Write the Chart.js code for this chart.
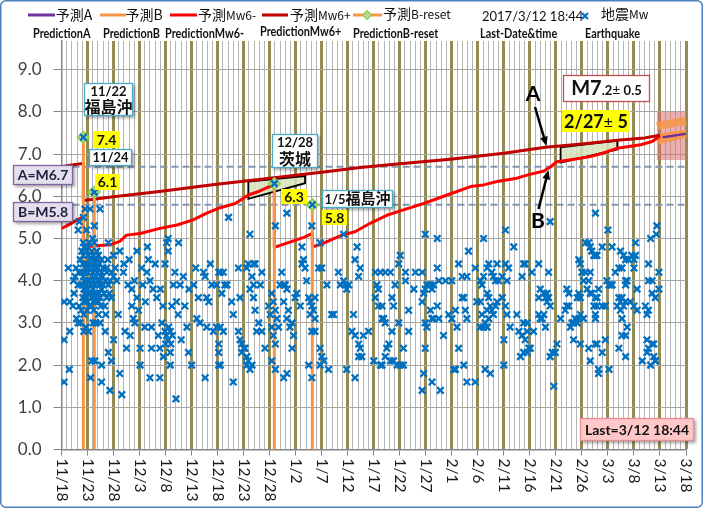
<!DOCTYPE html>
<html>
<head>
<meta charset="utf-8">
<script src="https://cdn.jsdelivr.net/npm/chart.js@4.4.1/dist/chart.umd.min.js"></script>
<style>
  html, body { margin: 0; padding: 0; background: #fff; }
  canvas { display: block; }
</style>
</head>
<body>
<canvas id="chart" width="703" height="508"></canvas>
<script>
// x axis = days since 2016/11/18
const tickLabels = ['11/18','11/23','11/28','12/3','12/8','12/13','12/18','12/23','12/28','1/2','1/7','1/12',
  '1/17','1/22','1/27','2/1','2/6','2/11','2/16','2/21','2/26','3/3','3/8','3/13','3/18'];

// earthquakes (day, Mw)
const quakeDay = [
  0.5,0.5,0.5,1.3,1.5,1.6,2.2,2.4,2.6,2.9, 3.2,3.2,3.6,3.4,4.2,4.2,4.5,5.5,7.4,6.3,
  6.3,9.0,3.9,4.8,5.8,6.8,4.2,5.2,6.1,7.1, 7.7,4.1,4.7,5.5,6.4,7.3,8.0,3.9,4.5,5.4,
  6.0,6.9,7.7,8.7,4.2,5.0,5.8,6.6,7.4,8.4, 3.9,4.7,5.6,6.4,7.3,8.0,4.3,5.2,6.0,6.8,
  7.7,4.1,4.8,5.8,6.6,7.4,8.7,4.5,5.4,6.1, 7.1,9.3,9.6,10.0,9.0,8.7,2.3,2.8,3.2,1.6,
  3.4,4.3,4.7,4.3,5.8,6.4,5.6,6.1,6.6,7.4, 8.4,7.7,7.7,9.3,9.6,9.0,10.0,10.9,11.2,11.6,
  11.2,10.0,10.3,9.6,10.6,11.9,12.2,12.5,13.2,13.5, 13.5,13.8,14.1,14.5,14.5,15.1,15.1,15.4,16.1,16.5,
  16.7,17.0,17.3,17.3,17.0,18.3,18.6,18.9,18.9,19.3, 19.9,20.2,20.5,20.5,19.9,20.2,20.9,20.5,20.9,20.9,
  21.5,21.8,22.1,22.5,22.8,23.4,23.7,24.1,24.4,25.0, 25.4,26.0,26.6,27.3,27.6,27.9,27.6,27.9,28.9,29.2,
  29.8,30.2,22.0,4.2,6.3,40.9,48.2,
  4.4,5.0,5.6,6.3,6.9,4.6,5.1,6.2,7.0,7.5, 4.4,5.3,6.1,6.9,7.9,4.5,5.0,5.7,6.4,7.2,
  8.2,4.3,5.0,5.8,6.6,7.6,8.3,4.9,6.2,7.1, 5.4,6.0,4.8,3.6,3.3,8.9,9.2,8.5,3.8,5.2,
  12.0,12.8,13.0,14.0,14.8,15.6,16.0,16.4,17.6,18.0, 19.0,19.5,20.0,21.0,21.2,22.4,23.0,24.5,25.8,26.3,
  28.3,28.6,19.6,21.3,20.6,
  32.1,36.2,41.1,43.3,48.1,46.2,49.7,54.2,56.8,56.4, 57.4,57.1,30.2,30.5,31.1,31.4,31.8,30.8,29.8,30.5,
  31.1,30.2,30.2,30.5,33.0,32.7,33.0,34.0,34.3,34.0, 34.3,34.6,35.0,35.3,34.6,35.6,35.9,36.2,36.6,35.6,
  35.9,36.9,37.2,35.6,36.6,36.9,36.2,36.9,37.2,37.9, 37.5,38.5,38.5,38.2,39.1,39.8,40.1,40.4,40.4,40.7,
  41.1,41.4,40.7,41.1,41.7,41.1,40.4,42.0,42.3,42.7, 43.0,43.3,42.7,43.3,43.6,43.9,44.3,44.6,44.3,42.7,
  43.3,44.9,45.2,45.9,46.2,46.5,46.8,47.1,47.5,47.8, 48.1,48.4,48.7,47.8,48.7,48.1,48.7,48.1,47.5,49.4,
  50.0,49.7,50.0,50.4,49.7,51.0,51.9,52.3,51.3,53.2, 53.6,54.2,54.5,54.8,55.2,54.8,56.4,55.8,56.4,57.1,
  57.4,57.7,57.1,58.0,59.0,56.1,
  69.9,72.2,85.3,81.1,86.9,78.2,65.1,64.8,60.3,61.3, 62.2,63.2,66.1,68.0,69.3,60.6,60.9,64.1,66.1,67.7,
  72.2,72.5,73.8,75.0,76.3,77.0,77.9,79.5,80.5,80.8, 81.1,81.8,82.1,82.7,83.0,83.7,83.4,84.0,84.7,85.3,
  85.6,85.9,88.5,88.8,60.3,60.9,61.6,61.9,62.2,61.6, 63.5,63.8,64.8,63.5,62.9,62.5,62.2,63.2,63.8,64.5,
  65.1,65.7,60.0,61.3,61.6,65.7,66.7,66.7,69.3,69.6, 69.9,70.2,70.9,71.2,71.5,69.9,70.2,70.9,71.2,71.5,
  72.2,72.5,69.9,69.6,69.3,71.2,72.8,73.4,74.4,75.0, 75.7,76.0,75.4,75.7,76.3,77.3,77.0,77.6,77.9,77.3,
  77.9,79.5,79.8,80.5,80.8,80.5,81.1,81.8,81.4,82.1, 81.8,82.4,82.7,83.0,83.4,83.7,82.1,81.8,81.4,82.4,
  84.7,85.3,85.6,85.0,85.0,86.2,87.5,87.9,88.5,88.8, 88.8,88.2,89.1,
  93.9,102.6,105.0,114.4,114.3,113.2,89.1,91.7,90.4,93.6, 92.0,91.7,92.7,93.0,93.3,93.6,93.9,93.3,91.7,92.3,
  92.7,92.0,93.0,90.7,89.5,89.5,89.8,89.5,90.1,93.9, 94.3,94.9,95.2,94.6,95.9,96.8,97.1,97.5,97.8,98.1,
  97.1,97.5,98.4,98.7,99.1,99.4,100.3,99.7,98.4,99.7, 99.4,99.1,99.7,99.4,99.7,100.0,100.7,101.6,101.3,100.3,
  101.0,101.6,101.9,102.6,103.2,102.9,100.7,101.3,101.6,101.9, 102.3,102.6,102.9,103.9,105.8,102.3,102.9,103.9,104.5,102.6,
  102.6,102.6,102.9,104.5,101.3,101.6,103.2,103.2,105.2,103.9, 104.8,105.2,105.5,105.8,106.4,107.1,107.7,107.4,108.0,108.4,
  107.1,107.4,107.7,108.0,108.4,106.8,107.4,107.7,108.4,108.4, 108.7,109.0,109.6,110.0,110.3,110.0,110.6,110.3,108.7,108.4,
  107.7,107.1,108.4,109.3,110.0,110.6,111.6,112.2,112.5,112.8, 112.5,112.8,112.5,113.5,113.8,112.8,112.8,113.5,113.5,114.1,
  114.8,114.8,113.2,113.8,114.1,114.1
];
const quakeMw = [
  3.5,2.6,1.6,4.3,1.9,2.8,3.4,3.7,4.1,3.1, 5.2,3.0,3.0,5.4,5.5,4.9,5.7,5.7,5.7,5.3,
  4.9,4.9,4.7,4.7,4.7,4.7,4.6,4.6,4.6,4.6, 4.5,4.4,4.4,4.4,4.4,4.4,4.3,4.2,4.2,4.3,
  4.2,4.2,4.2,4.2,4.1,4.0,4.1,4.1,4.0,4.0, 3.9,3.9,3.9,3.9,3.9,3.9,3.8,3.7,3.8,3.7,
  3.8,3.6,3.6,3.6,3.6,3.6,3.6,3.5,3.4,3.5, 3.5,4.0,4.2,4.1,3.9,4.3,4.0,4.3,3.9,3.5,
  3.4,3.2,2.9,2.8,2.1,2.1,1.7,3.0,3.0,3.0, 2.8,2.0,1.6,1.4,2.1,2.3,2.6,3.2,1.8,1.3,
  4.7,4.6,4.3,3.6,4.0,4.2,2.8,2.4,2.7,3.8, 3.4,3.1,3.0,4.7,3.6,2.0,2.4,4.3,3.5,4.8,
  4.5,4.0,2.9,2.4,1.7,3.6,2.7,2.4,1.7,3.0, 4.4,4.9,5.0,4.7,2.8,2.7,2.8,2.6,2.3,2.0,
  3.9,4.2,3.5,4.9,3.9,4.1,3.4,2.9,2.3,2.0, 3.9,3.1,3.0,4.2,4.1,3.6,1.7,2.9,3.9,2.8,
  3.9,2.0,1.2,7.4,6.1,6.3,5.8,
  4.8,4.8,4.5,4.5,4.5,4.3,4.2,4.3,4.3,4.1, 4.0,4.0,4.0,4.0,4.1,3.7,3.8,3.7,3.7,3.7,
  3.7,3.5,3.5,3.4,3.5,3.4,3.4,3.3,3.3,3.2, 4.9,5.0,5.2,4.5,4.2,4.5,3.7,3.2,3.3,2.8,
  4.4,3.9,4.5,4.0,3.3,3.9,2.9,4.2,3.8,4.4, 3.8,3.4,2.5,2.5,3.4,3.2,2.6,3.8,4.3,3.6,
  3.5,4.4,2.2,2.7,2.9,
  5.5,5.1,5.3,5.6,5.3,4.8,4.9,5.1,4.8,4.5, 4.3,4.1,4.2,4.2,4.2,3.9,3.9,3.7,2.9,2.9,
  2.8,2.5,2.3,2.0,1.6,3.5,3.2,4.3,3.6,2.8, 2.6,2.5,2.4,2.4,2.3,2.2,2.1,1.9,2.0,2.0,
  4.4,4.4,4.4,4.3,4.1,3.9,3.8,3.6,3.3,3.0, 2.8,2.8,4.2,3.9,2.4,3.4,3.2,3.7,2.9,3.5,
  3.3,3.1,2.7,2.5,2.9,1.9,2.1,3.9,4.2,3.9, 3.9,3.8,3.5,3.1,3.3,2.9,3.0,2.7,2.4,1.7,
  1.8,3.6,3.7,3.4,4.4,4.5,4.3,4.0,3.6,3.5, 3.4,3.3,3.1,3.2,3.6,2.8,2.8,1.7,2.0,4.3,
  4.3,2.4,2.2,2.1,2.0,3.9,3.2,3.2,1.9,4.2, 3.9,4.0,3.9,3.8,3.9,1.9,1.7,2.8,2.7,2.5,
  2.4,2.2,2.2,2.7,2.8,3.2,
  5.1,5.0,5.2,5.0,4.8,4.7,4.6,4.4,4.2,4.2, 4.2,4.2,4.2,4.2,4.2,3.9,3.8,3.9,4.0,3.8,
  4.3,4.0,4.0,4.0,4.4,4.1,4.1,4.3,4.0,3.9, 4.1,4.3,4.4,4.2,4.1,4.4,4.0,4.0,4.1,4.4,
  4.0,4.3,4.1,4.4,3.6,3.4,3.4,3.1,3.0,3.1, 3.6,3.4,3.0,2.8,2.5,2.4,2.2,2.1,2.1,2.0,
  2.0,2.0,2.1,2.0,2.0,2.4,2.8,3.3,3.5,3.7, 3.8,3.9,3.9,3.8,3.9,3.0,2.9,3.3,3.1,3.1,
  3.4,3.1,2.4,1.8,1.4,1.6,1.4,2.7,3.2,3.1, 3.3,2.9,1.9,1.9,2.4,3.6,3.6,3.3,3.1,2.0,
  1.6,1.6,3.5,3.5,3.2,2.9,2.9,2.9,3.0,3.1, 3.3,3.4,3.3,3.2,3.4,3.5,3.6,3.7,1.9,1.8,
  3.6,3.4,3.2,2.6,2.0,2.9,3.2,2.8,2.7,3.0, 2.3,2.2,2.6,
  5.4,5.6,5.2,5.3,5.1,5.0,4.4,4.4,4.2,4.2, 3.8,3.6,3.7,3.6,3.7,3.6,3.4,3.5,3.2,3.1,
  3.2,3.1,2.9,2.8,3.0,2.8,2.4,2.3,2.4,2.2, 2.3,2.3,2.5,1.5,3.1,3.3,3.4,3.4,2.9,3.0,
  3.8,3.7,3.0,3.1,3.0,3.1,3.1,3.2,2.6,2.5, 3.7,3.6,3.6,4.5,4.4,4.2,4.2,4.2,4.0,4.0,
  3.8,3.7,3.7,3.6,3.8,3.6,4.9,4.9,4.8,4.7, 4.6,4.6,4.6,4.8,4.8,3.4,3.4,3.4,3.4,3.2,
  3.1,2.5,2.5,2.6,2.4,2.1,1.9,1.8,1.9,2.3, 4.0,3.9,3.9,3.9,4.2,4.3,4.3,4.7,4.6,4.5,
  3.6,3.5,3.6,3.4,3.5,3.4,3.3,3.1,4.0,3.9, 4.0,4.5,4.6,4.5,4.6,4.3,3.8,4.9,2.9,2.7,
  2.7,2.4,2.2,3.5,3.4,3.3,2.1,3.4,3.2,3.3, 2.6,2.4,2.3,2.5,2.5,4.4,4.0,4.0,3.7,3.6,
  3.8,4.2,2.0,2.2,2.1,2.1
];

// Mw6- and Mw6+ prediction lines
const mw6MinusDay = [0,1,2,3,4.2,4.2,6,9.3,11.2,12.5,15.1,18.9,22.2,25.3,27.9,30.5,33.4,35.9,38,40.9,
  40.9,44.3,46.8,48.2,48.2,50,53.9,56.4,59.3,62.5,65.7,69.6,74.1,78.6,81.1,83.7,87.5,90,92.7,94,95.2,
  98.5,101.6,104,106.8,109,111.3,113.5,115];
const mw6MinusVal = [5.24,5.3,5.37,5.44,5.52,4.8,4.82,4.85,4.93,5.08,5.12,5.24,5.32,5.44,5.6,5.73,5.83,6.03,6.12,6.28,
  4.79,4.93,5.04,5.12,4.8,4.87,5.08,5.16,5.36,5.55,5.68,5.83,6.03,6.23,6.27,6.35,6.43,6.52,6.6,6.7,6.82,
  6.88,6.94,7.02,7.14,7.18,7.22,7.3,7.43];
const mw6PlusDay = [0,2,4.2,4.2,10,20,28.6,40,50,57.4,65,74.7,85,93,100,106.8,112,115];
const mw6PlusVal = [6.70,6.74,6.78,5.9,5.99,6.13,6.27,6.43,6.57,6.68,6.77,6.88,7.02,7.16,7.24,7.33,7.38,7.45];

// B-reset events
const resetDay = [4.2, 6.3, 40.9, 48.2];
const resetMw = [7.4, 6.1, 6.3, 5.8];

// forecast A / B beyond last date
const predADay = [115.5, 120];
const predAVal = [7.40, 7.48];
const predBDay = [115, 120];
const predBVal = [7.45, 7.55];
const bandUpperVal = [7.67, 7.79];
const bandLowerVal = [7.32, 7.48];
const bandDay = [114.4, 120];
const forecastBox = [114.4, 120, 6.86, 8.0]; // day from, day to, Mw from, Mw to

// thresholds
const levelA = 6.7;
const levelB = 5.8;

// A-B windows (day, Mw corners)
const windowDays = [[35.9, 46.8, 46.8, 35.9], [95.9, 106.8, 106.8, 95.9]];
const windowMw = [[6.35, 6.48, 6.31, 5.94], [7.16, 7.32, 7.11, 6.80]];

const pts = (xs, ys) => xs.map((x, i) => ({ x: x, y: ys[i] }));

const resetLines = [];
resetDay.forEach((d, i) => {
  resetLines.push({ x: d, y: 0 }, { x: d, y: resetMw[i] }, { x: d, y: null });
});

const lineDs = (data, color, width, order, extra) => Object.assign({
  data: data, showLine: true, borderColor: color, borderWidth: width, pointRadius: 0,
  fill: false, tension: 0, order: order, borderJoinStyle: 'round'
}, extra || {});

const datasets = [
  { label: 'quakes', data: pts(quakeDay, quakeMw), pointStyle: 'crossRot', pointRadius: 4.6,
    borderColor: '#0070C0', backgroundColor: '#0070C0', pointBorderWidth: 2.3, order: 0 },
  { label: 'reset', data: pts(resetDay, resetMw), pointStyle: 'rectRot', pointRadius: 5.5,
    backgroundColor: '#C3D69B', borderColor: '#92D050', pointBorderWidth: 2, order: 1 },
  lineDs(resetLines, '#F79646', 3, 2),
  lineDs(pts(mw6PlusDay, mw6PlusVal), '#C00000', 3, 3),
  lineDs(pts(mw6MinusDay, mw6MinusVal), '#FF0000', 3, 4),
  lineDs(pts(predBDay, predBVal), '#F79646', 2.5, 5),
  lineDs(pts(predADay, predAVal), '#7030A0', 2.5, 5),
  lineDs([{ x: 0, y: levelA }, { x: 120, y: levelA }], '#8497B0', 2, 6, { borderDash: [7, 4] }),
  lineDs([{ x: 0, y: levelB }, { x: 120, y: levelB }], '#8497B0', 2, 6, { borderDash: [7, 4] })
];

const latin = 'Lato, "Noto Sans CJK JP", sans-serif';
const cjk = '"Noto Sans CJK JP", Lato, sans-serif';

// shapes drawn behind the series
const backdrop = {
  id: 'backdrop',
  beforeDatasetsDraw(chart) {
    const ctx = chart.ctx, xs = chart.scales.x, ys = chart.scales.y;
    const X = v => xs.getPixelForValue(v), Y = v => ys.getPixelForValue(v);
    ctx.save();
    // forecast zone
    ctx.fillStyle = 'rgba(218,110,110,0.55)';
    ctx.fillRect(X(forecastBox[0]), Y(forecastBox[3]), X(forecastBox[1]) - X(forecastBox[0]), Y(forecastBox[2]) - Y(forecastBox[3]));
    ctx.strokeStyle = 'rgba(247,150,70,0.85)';
    ctx.lineWidth = 8;
    [bandUpperVal, bandLowerVal].forEach(b => {
      ctx.beginPath();
      ctx.moveTo(X(bandDay[0]), Y(b[0]));
      ctx.lineTo(X(bandDay[1]), Y(b[1]));
      ctx.stroke();
    });
    // A-B windows
    windowDays.forEach((ds, k) => {
      ctx.beginPath();
      ds.forEach((d, i) => {
        const px = X(d), py = Y(windowMw[k][i]);
        if (i === 0) ctx.moveTo(px, py); else ctx.lineTo(px, py);
      });
      ctx.closePath();
      ctx.fillStyle = 'rgba(215,228,189,0.85)';
      ctx.fill();
      ctx.strokeStyle = '#000';
      ctx.lineWidth = 1.8;
      ctx.stroke();
    });
    ctx.restore();
  }
};

function box(ctx, x, y, w, h, fill, stroke, shadow) {
  ctx.save();
  if (shadow) {
    ctx.shadowColor = 'rgba(0,0,0,0.35)';
    ctx.shadowOffsetX = 2; ctx.shadowOffsetY = 2; ctx.shadowBlur = 3;
  }
  ctx.fillStyle = fill;
  ctx.fillRect(x, y, w, h);
  ctx.restore();
  if (stroke) {
    ctx.strokeStyle = stroke; ctx.lineWidth = 1.3;
    ctx.strokeRect(x + 0.5, y + 0.5, w - 1, h - 1);
  }
}

function text(ctx, s, x, y, font, color, align) {
  ctx.font = font;
  ctx.fillStyle = color || '#111';
  ctx.textAlign = align || 'center';
  ctx.textBaseline = 'middle';
  ctx.fillText(s, x, y);
}

// draw a run of [string, font] parts centred on x
function runs(ctx, parts, cx, y, color) {
  let w = 0;
  parts.forEach(p => { ctx.font = p[1]; w += ctx.measureText(p[0]).width; });
  let x = cx - w / 2;
  parts.forEach(p => {
    ctx.font = p[1];
    ctx.fillStyle = color || '#111';
    ctx.textAlign = 'left'; ctx.textBaseline = 'alphabetic';
    ctx.fillText(p[0], x, y);
    x += ctx.measureText(p[0]).width;
  });
}

function arrow(ctx, x1, y1, x2, y2) {
  const a = Math.atan2(y2 - y1, x2 - x1), L = 10;
  ctx.save();
  ctx.strokeStyle = '#000'; ctx.fillStyle = '#000'; ctx.lineWidth = 2.5;
  ctx.beginPath();
  ctx.moveTo(x1, y1);
  ctx.lineTo(x2 - Math.cos(a) * L * 0.8, y2 - Math.sin(a) * L * 0.8);
  ctx.stroke();
  ctx.beginPath();
  ctx.moveTo(x2, y2);
  ctx.lineTo(x2 - L * Math.cos(a - 0.4), y2 - L * Math.sin(a - 0.4));
  ctx.lineTo(x2 - L * Math.cos(a + 0.4), y2 - L * Math.sin(a + 0.4));
  ctx.closePath();
  ctx.fill();
  ctx.restore();
}

const overlay = {
  id: 'overlay',
  afterDraw(chart) {
    const ctx = chart.ctx, xs = chart.scales.x;
    ctx.save();

    // rotated x labels
    tickLabels.forEach((lab, i) => {
      const x = xs.getPixelForValue(i * 5);
      ctx.save();
      ctx.translate(x, xs.top + 9);
      ctx.rotate(Math.PI / 2);
      text(ctx, lab, 0, 0, '15.5px ' + latin, '#1A1A1A', 'left');
      ctx.restore();
    });

    // legend, first row
    const legLine = (x1, x2, y, c) => {
      ctx.strokeStyle = c; ctx.lineWidth = 3; ctx.beginPath(); ctx.moveTo(x1, y); ctx.lineTo(x2, y); ctx.stroke();
    };
    legLine(28, 55, 15, '#7030A0');
    runs(ctx, [['予測A', '14px ' + cjk]], 74, 20);
    legLine(100, 126, 15, '#F79646');
    runs(ctx, [['予測B', '14px ' + cjk]], 144, 20);
    legLine(170, 197, 15, '#FF0000');
    ctx.textAlign = 'left';
    ctx.font = '14px ' + cjk; ctx.fillStyle = '#111'; ctx.fillText('予測', 198, 20);
    ctx.font = '12px ' + cjk; ctx.fillText('Mw6-', 226, 20);
    legLine(262, 288, 15, '#C00000');
    ctx.font = '14px ' + cjk; ctx.fillText('予測', 290, 20);
    ctx.font = '12px ' + cjk; ctx.fillText('Mw6+', 318, 20);
    legLine(353, 382, 15, '#F79646');
    ctx.save();
    ctx.translate(367, 15); ctx.rotate(Math.PI / 4);
    ctx.fillStyle = '#C3D69B'; ctx.strokeStyle = '#92D050'; ctx.lineWidth = 1.5;
    ctx.fillRect(-3, -3, 6, 6); ctx.strokeRect(-3, -3, 6, 6);
    ctx.restore();
    ctx.font = '14px ' + cjk; ctx.fillStyle = '#111'; ctx.fillText('予測', 383, 19);
    ctx.font = '12px ' + cjk; ctx.fillText('B-reset', 411, 19);
    ctx.font = '13px ' + latin; ctx.fillText('2017/3/12 18:44', 482, 21);
    ctx.strokeStyle = '#0070C0'; ctx.lineWidth = 2;
    ctx.beginPath(); ctx.moveTo(582, 13); ctx.lineTo(588, 19); ctx.moveTo(588, 13); ctx.lineTo(582, 19); ctx.stroke();
    ctx.font = '14px ' + cjk; ctx.fillStyle = '#111'; ctx.fillText('地震', 601, 19);
    ctx.font = '12px ' + cjk; ctx.fillText('Mw', 629, 19);

    // legend, second row (slightly condensed bold, like the original)
    [['PredictionA', 33, 34], ['PredictionB', 103, 34], ['PredictionMw6-', 165, 34], ['PredictionMw6+', 260, 32],
     ['PredictionB-reset', 353, 34], ['Last-Date&time', 480, 34], ['Earthquake', 585, 34]].forEach(t => {
      ctx.save();
      ctx.translate(t[1], t[2]);
      ctx.scale(0.87, 1);
      text(ctx, t[0], 0, 0, '700 12.5px ' + latin, '#111', 'left');
      ctx.restore();
    });

    // event callouts
    const bold13 = '700 13px ' + latin, boldJ = '700 16px ' + cjk;
    box(ctx, 84, 83, 49, 33, '#fff', '#4BACC6', true);
    text(ctx, '11/22', 108.5, 92, bold13);
    text(ctx, '福島沖', 108.5, 107, boldJ);
    box(ctx, 93, 131, 27, 17, '#FFFF00');
    text(ctx, '7.4', 106.5, 140, '700 14px ' + latin);
    box(ctx, 89, 149, 43, 17, '#fff', '#4BACC6', true);
    text(ctx, '11/24', 110.5, 158, bold13);
    box(ctx, 95, 174, 25, 16, '#FFFF00');
    text(ctx, '6.1', 107.5, 182.5, '700 14px ' + latin);
    box(ctx, 272, 134, 46, 34, '#fff', '#4BACC6', true);
    text(ctx, '12/28', 295, 143, bold13);
    text(ctx, '茨城', 295, 159, boldJ);
    box(ctx, 281, 189, 26, 15, '#FFFF00');
    text(ctx, '6.3', 294, 197, '700 14px ' + latin);
    box(ctx, 322, 190, 71, 18, '#fff', '#4BACC6', true);
    runs(ctx, [['1/5', bold13], ['福島沖', '700 15px ' + cjk]], 357.5, 204);
    box(ctx, 322, 210, 25, 15, '#FFFF00');
    text(ctx, '5.8', 334.5, 218, '700 14px ' + latin);

    // threshold labels
    box(ctx, 13, 165, 60, 20, '#E4DFEC', '#8064A2', true);
    text(ctx, 'A=M6.7', 43, 175.5, '700 14px ' + latin, '#1F1F3F');
    box(ctx, 13, 202, 60, 20, '#E4DFEC', '#8064A2', true);
    text(ctx, 'B=M5.8', 43, 212.5, '700 14px ' + latin, '#1F1F3F');

    // forecast
    box(ctx, 563, 75, 87, 27, '#fff', '#C0504D');
    runs(ctx, [['M7', '700 20px ' + latin], ['.2', '700 13px ' + latin], ['\u00b1', '14px ' + latin], [' 0.5', '700 13px ' + latin]], 606.5, 95);
    box(ctx, 562, 110, 68, 22, '#FFFF00');
    runs(ctx, [['2/27', '700 18px ' + latin], ['\u00b1', '16px ' + latin], [' 5', '700 18px ' + latin]], 596, 128);
    text(ctx, 'A', 533, 94, '700 21px ' + latin, '#000');
    arrow(ctx, 535, 107, 546.5, 146);
    text(ctx, 'B', 538, 221, '700 21px ' + latin, '#000');
    arrow(ctx, 538.5, 209, 548.5, 170);

    box(ctx, 580, 418, 114, 23, '#FFC7C7', '#E89090', true);
    text(ctx, 'Last=3/12 18:44', 637, 430, '700 14px ' + latin, '#111');

    // frame
    ctx.strokeStyle = '#4A7EBB'; ctx.lineWidth = 1.5;
    ctx.beginPath();
    ctx.roundRect(0.75, 0.75, 701.5, 506.5, 5);
    ctx.stroke();
    ctx.restore();
  }
};

const isMajor = c => c.tick && Math.round(c.tick.value) % 5 === 0;

new Chart(document.getElementById('chart'), {
  type: 'scatter',
  data: { datasets: datasets },
  options: {
    responsive: false,
    animation: false,
    events: [],
    layout: { padding: { left: 0, right: 17, top: 41, bottom: 0 } },
    plugins: { legend: { display: false }, tooltip: { enabled: false } },
    scales: {
      x: {
        type: 'linear', min: 0, max: 120,
        afterBuildTicks: s => { s.ticks = []; for (let i = 0; i <= 120; i++) s.ticks.push({ value: i }); },
        afterFit: s => { s.height = 58.5; },
        ticks: { display: false },
        grid: {
          color: c => (isMajor(c) && c.tick.value > 0) ? '#948A54' : '#B4B4B4',
          lineWidth: c => (isMajor(c) && c.tick.value > 0) ? 3 : 1,
          drawTicks: true, tickLength: 6, tickWidth: 1,
          tickColor: c => isMajor(c) ? '#868686' : 'rgba(0,0,0,0)'
        },
        border: { display: true, color: '#868686', width: 1.5 }
      },
      y: {
        min: 0, max: 9.68,
        afterFit: s => { s.width = 61.5; },
        ticks: {
          stepSize: 1, includeBounds: false, padding: 12,
          callback: v => Number(v).toFixed(1),
          font: { family: 'Lato', size: 17 }, color: '#404040'
        },
        grid: { color: '#A6A6A6', lineWidth: 1, tickLength: 8, tickColor: '#868686' },
        border: { color: '#868686', width: 1.5 }
      }
    }
  },
  plugins: [backdrop, overlay]
});
</script>
</body>
</html>
